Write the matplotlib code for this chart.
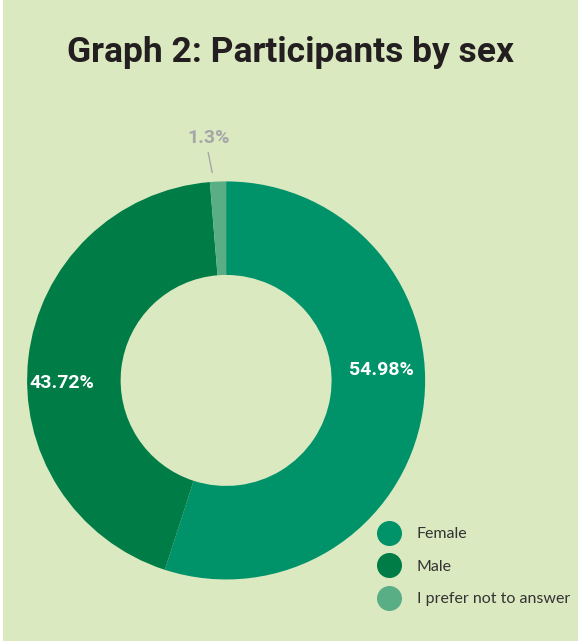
import numpy as np
import matplotlib
matplotlib.use("Agg")
import matplotlib.pyplot as plt
from matplotlib.lines import Line2D

labels = ["Female", "Male", "I prefer not to answer"]
values = [54.98, 43.72, 1.3]
value_text = ["54.98%", "43.72%", "1.3%"]
colors = ["#00936a", "#007c46", "#5aae85"]

bg = "#dbe9c1"

fig = plt.figure(figsize=(5.78, 6.41), dpi=100)
fig.patch.set_facecolor(bg)

ax = fig.add_axes([0.0467, 0.096, 0.689, 0.621])
ax.set_facecolor(bg)
wedges, _ = ax.pie(values, colors=colors, startangle=90, counterclock=False,
                   radius=1.0, wedgeprops=dict(width=0.47, edgecolor="none"))
ax.set_xlim(-1, 1)
ax.set_ylim(-1, 1)
ax.set_aspect("equal")
ax.axis("off")

# value labels (angle in degrees, radius)
lab_pos = [(3.9, 0.78), (181.0, 0.824)]
for (ang, r), t in zip(lab_pos, value_text[:2]):
    a = np.deg2rad(ang)
    ax.text(r * np.cos(a), r * np.sin(a), t, ha="center", va="center",
            color="white", fontsize=14, fontweight="bold", family="Roboto")

# small slice label with leader line
ax.text(-0.09, 1.216, value_text[2], ha="center", va="center", color="#a6a6a6",
        fontsize=14, fontweight="bold", family="Roboto", clip_on=False)
ax.plot([-0.09, -0.07], [1.145, 1.045], color="#a6a6a6", lw=1, clip_on=False)

fig.text(0.502, 0.918, "Graph 2: Participants by sex", ha="center", va="center",
         fontsize=25.5, fontweight="bold", color="#231f20", family="Roboto")

handles = [Line2D([0], [0], marker="o", linestyle="none", markersize=17,
                  markerfacecolor=c, markeredgecolor=c) for c in colors]
leg = fig.legend(handles, labels, loc="upper left", bbox_to_anchor=(0.62, 0.2),
                 frameon=False, handletextpad=0.75, labelspacing=1.15,
                 prop=dict(family="Lato", size=11.5))
for t in leg.get_texts():
    t.set_color("#333333")

# thin white margin on the left edge as in the source image
fig.add_artist(plt.Rectangle((0, 0), 3 / 578, 1, transform=fig.transFigure,
                             facecolor="white", edgecolor="none"))

fig.savefig("out.png", dpi=100, facecolor=bg)
